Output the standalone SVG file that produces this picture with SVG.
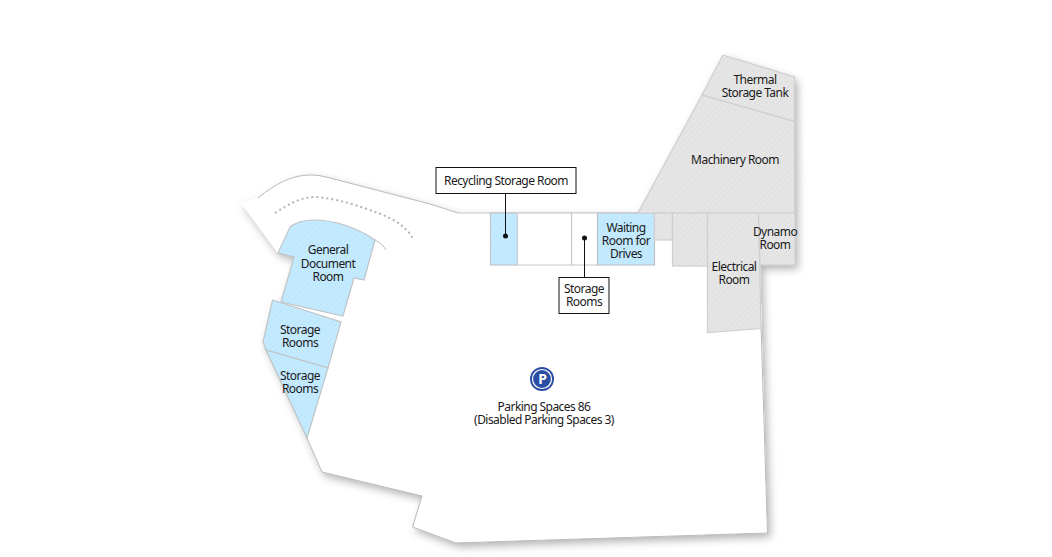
<svg xmlns="http://www.w3.org/2000/svg" width="1052" height="557" viewBox="0 0 1052 557">
<defs>
<pattern id="hb" width="4" height="4" patternUnits="userSpaceOnUse" patternTransform="rotate(45)"><rect width="4" height="4" fill="#bfe8fe"/><rect width="1.2" height="4" fill="#c9ecfe"/></pattern>
<pattern id="hg" width="4" height="4" patternUnits="userSpaceOnUse" patternTransform="rotate(45)"><rect width="4" height="4" fill="#e2e2e2"/><rect width="1.2" height="4" fill="#e8e8e8"/></pattern>
<filter id="sh" x="-10%" y="-10%" width="120%" height="120%"><feDropShadow dx="3" dy="4" stdDeviation="4" flood-color="#000" flood-opacity="0.3"/></filter>
<style>
.b{fill:url(#hb);stroke:#c0c4c6;stroke-width:1.2}
.g{fill:url(#hg);stroke:#cfcfcf;stroke-width:1.2}
text{font-family:"Noto Sans","Liberation Sans",sans-serif;font-size:12px;fill:#1a1a1a;text-anchor:middle;letter-spacing:-0.55px}
.box{fill:#fff;stroke:#111;stroke-width:1}
.ln{stroke:#111;stroke-width:1;fill:none}
.w{fill:none;stroke:#bbb;stroke-width:1}
</style>
</defs>
<g id="floor">
<path id="floor-plate" filter="url(#sh)" fill="#fff" d="M241,203L258,198C275,184 292,175 310,175C318,175 322,176 330,178L430,204L458,213L638,213L723,55L794.500,77L795,265L760,265L762,340L767.500,533L456,543L412.500,527L422,496L322,472L307,438L263,342L272.500,300L281,302L294,257L278,253Z"/>
<path class="w" d="M258,198C275,184 292,175 310,175C318,175 322,176 330,178L430,204L458,213"/>
<path class="w" d="M375,240C380,243 384,246 386,250"/>
<path class="w" d="M307,438L322,472L422,496L412.500,527L456,543L767.500,533L761,326"/>
<path fill="none" stroke="#b4b4b4" stroke-width="2" stroke-dasharray="2 3" d="M275,213C290,203 302,197 316,197C340,199 362,207 378,213C394,219 407,227 413,239"/>
<path d="M458,213H640" stroke="#d8d8d8" stroke-width="1.500"/>
</g>
<g id="general-document-room"><path class="b" d="M278,253L290,227C296,222 304,220 314,220C335,220 358,228 375,240L364,280L354,278L343,316L281,302L294,257Z"/><text x="328" y="254">General</text><text x="328" y="268">Document</text><text x="328" y="281">Room</text></g>
<g id="storage-rooms-1"><path class="b" d="M272.500,300L341,322L328,368L266,350L263,342Z"/><text x="300" y="334">Storage</text><text x="300" y="347">Rooms</text></g>
<g id="storage-rooms-2"><path class="b" d="M266,350L328,368L307,438Z"/><text x="300" y="380">Storage</text><text x="300" y="393">Rooms</text></g>
<g id="recycling-room"><rect class="b" x="490.500" y="213" width="27" height="52"/></g>
<g id="storage-room-white"><rect x="517.500" y="213" width="80" height="52" fill="#fff" stroke="#d0d0d0" stroke-width="1.200"/><path d="M571.500,213V265" stroke="#c8c8c8" stroke-width="1.200"/></g>
<g id="waiting-room"><rect class="b" x="597.500" y="213" width="57" height="52"/><text x="626" y="232">Waiting</text><text x="626" y="245">Room for</text><text x="626" y="258">Drives</text></g>
<g id="thermal-storage-tank"><path class="g" d="M723,55L794.500,77V121.500L702,95Z"/><text x="755" y="84">Thermal</text><text x="755" y="97">Storage Tank</text></g>
<g id="machinery-room"><path class="g" d="M702,95L794.500,121.500V213H638Z"/><text x="735" y="164">Machinery Room</text></g>
<g id="service-room-a"><rect class="g" x="654.500" y="213" width="18" height="27"/></g>
<g id="service-room-b"><rect class="g" x="672.500" y="213" width="35" height="53"/></g>
<g id="electrical-room"><path class="g" d="M707.500,213H758.500L761,328.500L707.500,332.500Z"/><text x="734" y="271">Electrical</text><text x="734" y="284">Room</text></g>
<g id="dynamo-room"><path class="g" d="M758.500,213H795V265H760Z"/><text x="775" y="236">Dynamo</text><text x="775" y="249">Room</text></g>
<g id="parking"><circle cx="542" cy="379" r="12" fill="#2b4da3"/><circle cx="542" cy="379" r="9.500" fill="none" stroke="#fff" stroke-width="1.200"/><text x="542.500" y="384" style="font-size:14px;font-weight:700;fill:#fff;letter-spacing:0">P</text><text x="544" y="411">Parking Spaces 86</text><text x="544" y="424">(Disabled Parking Spaces 3)</text></g>
<g id="connectors"><path class="ln" d="M505.500,193V236M584.500,238V277"/><circle cx="505.500" cy="236" r="2.500" fill="#111"/><circle cx="584.500" cy="238" r="2.500" fill="#111"/></g>
<g id="label-recycling"><rect class="box" x="436" y="167.500" width="140" height="26"/><text x="506" y="185">Recycling Storage Room</text></g>
<g id="label-storage"><rect class="box" x="559" y="277.500" width="50" height="36"/><text x="584" y="293">Storage</text><text x="584" y="306">Rooms</text></g>
</svg>
